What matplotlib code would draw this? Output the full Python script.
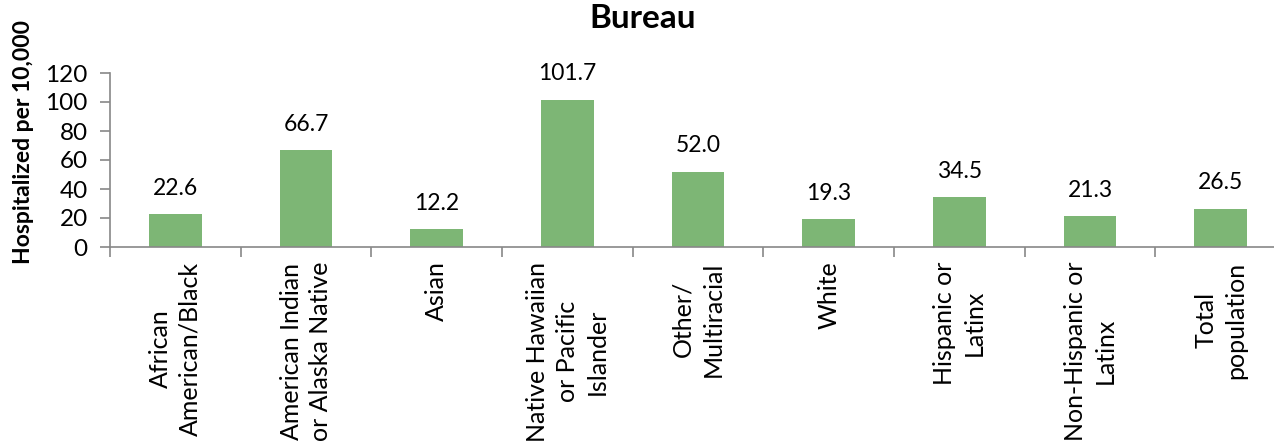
import matplotlib
matplotlib.use("Agg")
import matplotlib.pyplot as plt
import numpy as np

categorias = [
    "African\nAmerican/Black",
    "American Indian\nor Alaska Native",
    "Asian",
    "Native Hawaiian\nor Pacific\nIslander",
    "Other/\nMultiracial",
    "White",
    "Hispanic or\nLatinx",
    "Non-Hispanic or\nLatinx",
    "Total\npopulation",
]
valores = [22.6, 66.7, 12.2, 101.7, 52.0, 19.3, 34.5, 21.3, 26.5]
yticks = [0, 20, 40, 60, 80, 100, 120]

plt.rcParams["font.family"] = ["Lato", "DejaVu Sans"]

fig = plt.figure(figsize=(12.74, 4.43), dpi=100)
ax = fig.add_axes([110 / 1274, 1 - 247 / 443, 1176 / 1274, 174 / 443])

x = np.arange(len(valores))
barras = ax.bar(x, valores, width=0.405, color="#7db675")

for b, v in zip(barras, valores):
    ax.annotate(f"{v:.1f}", (b.get_x() + b.get_width() / 2, v),
                xytext=(0, 11), textcoords="offset points",
                ha="center", va="bottom", fontsize=16.5)

ax.set_xlim(-0.5, len(valores) - 0.5)
ax.set_ylim(0, 120)
ax.set_yticks(yticks)
ax.tick_params(axis="y", labelsize=17.5, length=7, color="#888", width=1.2,
               pad=9)

# ticks do eixo x nas divisas entre categorias
ax.set_xticks(np.arange(len(valores) + 1) - 0.5)
ax.set_xticklabels([])
ax.tick_params(axis="x", length=7, color="#888", width=1.2)
for xi, lab in zip(x, categorias):
    ax.text(xi, -10, lab, rotation=90, ha="center", va="top",
            multialignment="center", fontsize=18, clip_on=False,
            linespacing=1.35)

for s in ["top", "right"]:
    ax.spines[s].set_visible(False)
for s in ["left", "bottom"]:
    ax.spines[s].set_color("#888")
    ax.spines[s].set_linewidth(1.2)

fig.text(643 / 1274, 1 - 19 / 443, "Bureau", ha="center", va="center",
         fontsize=24, weight="bold")
fig.text(24 / 1274, 1 - 142 / 443, "Hospitalized per 10,000", rotation=90,
         ha="center", va="center", fontsize=16.5, weight="bold")

fig.savefig("out.png", dpi=100)
